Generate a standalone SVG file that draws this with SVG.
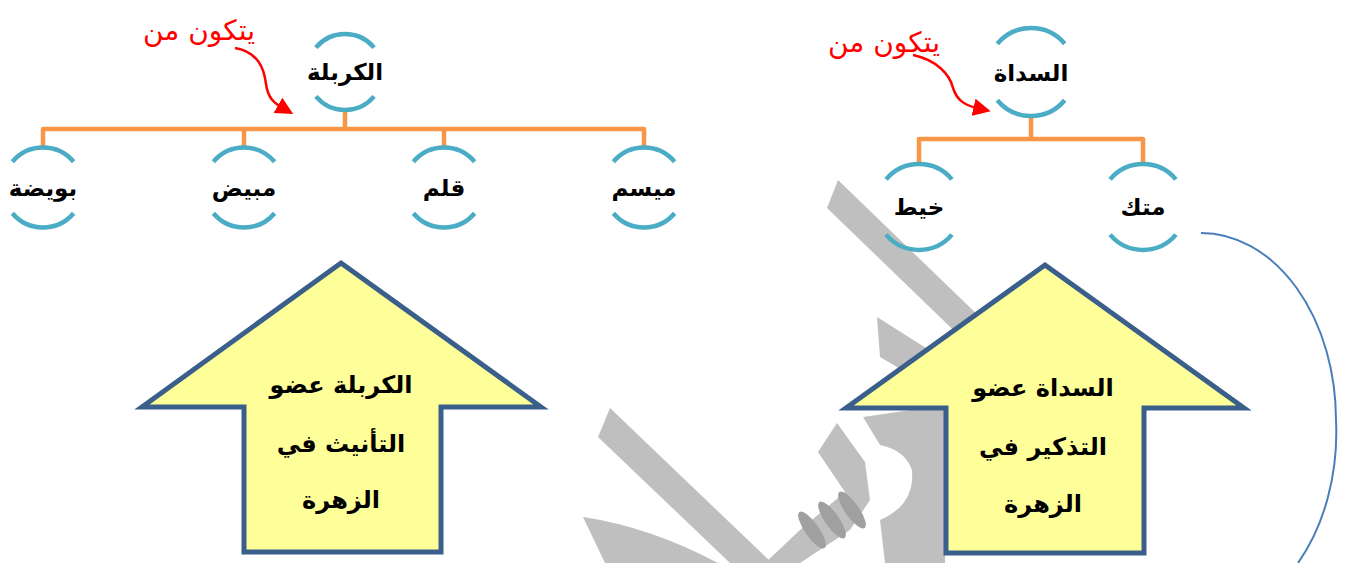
<svg xmlns="http://www.w3.org/2000/svg" width="1350" height="563" viewBox="0 0 1350 563">
<style>
.ring{fill:none;stroke:#4BACC6;stroke-width:4.5}
.bus{fill:none;stroke:#F79646;stroke-width:4.5;stroke-linejoin:round}
.lbl{font-family:"DejaVu Sans",sans-serif;font-weight:bold;font-size:23px;fill:#000;text-anchor:middle}
.red{font-family:"DejaVu Sans",sans-serif;font-size:28px;fill:#FF0000;text-anchor:middle}
.big{fill:#FFFF99;stroke:#3A5F8B;stroke-width:5;stroke-linejoin:miter}
.btxt{font-family:"DejaVu Sans",sans-serif;font-weight:bold;font-size:24px;fill:#000;text-anchor:middle}
.wm{fill:#BFBFBF}
.wm2{fill:#A0A0A0}
.redarrow{fill:none;stroke:#FF0000;stroke-width:2.5}
</style>
<defs>
<marker id="rh" viewBox="0 0 10 10" refX="2" refY="5" markerWidth="7" markerHeight="7" orient="auto" markerUnits="strokeWidth">
<path d="M0,0 L10,5 L0,10 z" fill="#FF0000"/>
</marker>
</defs>
<rect width="1350" height="563" fill="#FFFFFF"/>

<g id="watermark">
<polygon class="wm" points="838,180 1013,349 1002,377 827,208"/>
<polygon class="wm" points="877,317 945,360 945,400 897,367 880,357"/>
<polygon class="wm" points="610,408 772,563 730,563 598,437"/>
<path class="wm" d="M837,423 L865,462 L870,500 L850,530 L800,563 L765,563 L800,530 L845,492 L818,452 Z"/>
<path class="wm" d="M583,517 Q650,527 718,563 L605,563 Z"/>
<path class="wm" d="M863,417 L945,405 L945,563 L885,563 L880,520 Q915,505 912,470 Q905,450 880,445 Z"/>
<ellipse class="wm2" cx="812" cy="530" rx="7" ry="22" transform="rotate(-35 812 530)"/>
<ellipse class="wm2" cx="832" cy="520" rx="7" ry="22" transform="rotate(-35 832 520)"/>
<ellipse class="wm2" cx="852" cy="510" rx="7" ry="22" transform="rotate(-35 852 510)"/>
</g>

<g id="connectors">
<path class="bus" d="M43,147 V129 H644 V147"/>
<path class="bus" d="M244,129 V147"/>
<path class="bus" d="M444,129 V147"/>
<path class="bus" d="M345,110 V129"/>
<path class="bus" d="M919,164 V139 H1143 V164"/>
<path class="bus" d="M1031,116 V139"/>
<path class="redarrow" d="M235,48 C258,52 264,68 266,84 C268,98 274,103 281,107" marker-end="url(#rh)"/>
<path class="redarrow" d="M913,55 C937,60 950,75 953,88 C957,100 964,105 977,108" marker-end="url(#rh)"/>
<path d="M1201,233 A135 187 0 0 1 1336 420 A135 187 0 0 1 1298 563" fill="none" stroke="#4A7EBB" stroke-width="2"/>
</g>

<g id="label-left" ><text class="red" x="199" y="40">يتكون من</text></g>
<g id="label-right"><text class="red" x="884" y="52">يتكون من</text></g>

<g id="node-karbala">
<path class="ring" d="M315.9,47.6 A38 38 0 0 1 374.1,47.6"/>
<path class="ring" d="M315.9,96.4 A38 38 0 0 0 374.1,96.4"/>
<text class="lbl" x="345" y="80">الكربلة</text>
</g>
<g id="node-bwayda">
<path class="ring" d="M12.4,161.8 A40 40 0 0 1 73.6,161.8"/>
<path class="ring" d="M12.4,213.2 A40 40 0 0 0 73.6,213.2"/>
<text class="lbl" x="43" y="196">بويضة</text>
</g>
<g id="node-mabid">
<path class="ring" d="M213.4,161.8 A40 40 0 0 1 274.6,161.8"/>
<path class="ring" d="M213.4,213.2 A40 40 0 0 0 274.6,213.2"/>
<text class="lbl" x="244" y="196">مبيض</text>
</g>
<g id="node-qalam">
<path class="ring" d="M413.4,161.8 A40 40 0 0 1 474.6,161.8"/>
<path class="ring" d="M413.4,213.2 A40 40 0 0 0 474.6,213.2"/>
<text class="lbl" x="444" y="196">قلم</text>
</g>
<g id="node-mysam">
<path class="ring" d="M613.4,161.8 A40 40 0 0 1 674.6,161.8"/>
<path class="ring" d="M613.4,213.2 A40 40 0 0 0 674.6,213.2"/>
<text class="lbl" x="644" y="196">ميسم</text>
</g>

<g id="node-sadah">
<path class="ring" d="M997.3,43.7 A44 44 0 0 1 1064.7,43.7"/>
<path class="ring" d="M997.3,100.3 A44 44 0 0 0 1064.7,100.3"/>
<text class="lbl" x="1031" y="81">السداة</text>
</g>
<g id="node-khayt">
<path class="ring" d="M886.1,179.4 A43 43 0 0 1 951.9,179.4"/>
<path class="ring" d="M886.1,234.6 A43 43 0 0 0 951.9,234.6"/>
<text class="lbl" x="919" y="215">خيط</text>
</g>
<g id="node-matk">
<path class="ring" d="M1110.1,179.4 A43 43 0 0 1 1175.9,179.4"/>
<path class="ring" d="M1110.1,234.6 A43 43 0 0 0 1175.9,234.6"/>
<text class="lbl" x="1143" y="215">متك</text>
</g>

<g id="arrow-left">
<polygon class="big" points="341,263 541,407 441,407 441,552 244,552 244,407 142,407"/>
<text class="btxt" x="341" y="393">الكربلة عضو</text>
<text class="btxt" x="341" y="452">التأنيث في</text>
<text class="btxt" x="341" y="508">الزهرة</text>
</g>
<g id="arrow-right">
<polygon class="big" points="1045,265 1244,408 1144,408 1144,553 946,553 946,408 846,408"/>
<text class="btxt" x="1043" y="396">السداة عضو</text>
<text class="btxt" x="1043" y="455">التذكير في</text>
<text class="btxt" x="1043" y="512">الزهرة</text>
</g>
</svg>
